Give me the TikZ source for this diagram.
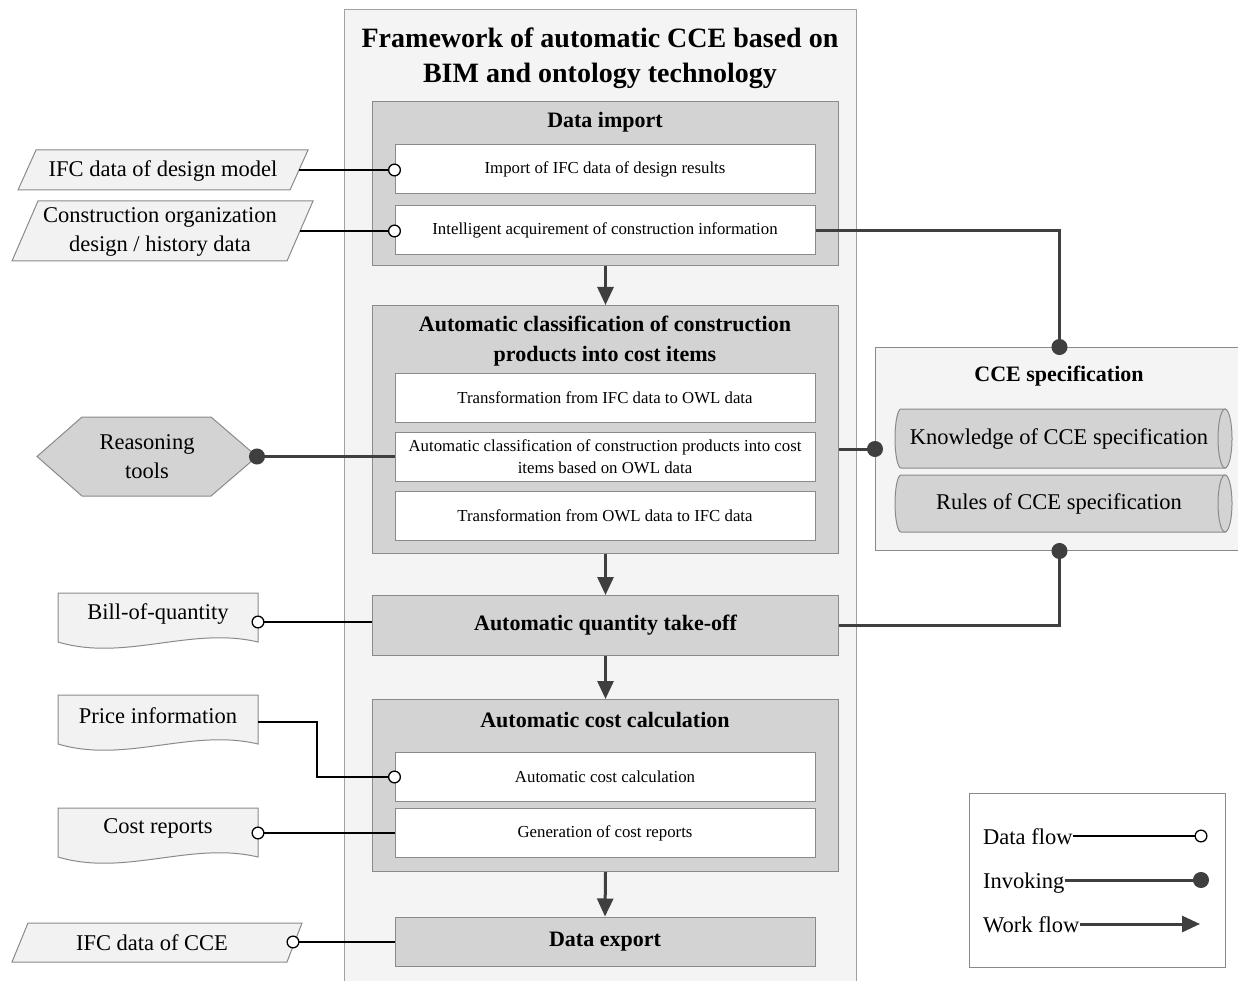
\documentclass[tikz,border=0pt]{standalone}
\usepackage{fontspec}
\setmainfont{Liberation Serif}
\usetikzlibrary{arrows.meta,calc}
\definecolor{framefill}{HTML}{F4F4F4}
\definecolor{secfill}{HTML}{D3D3D3}
\definecolor{ink}{HTML}{3F3F3F}
\definecolor{edgegray}{HTML}{8A8A8A}
\definecolor{docfill}{HTML}{F2F2F2}
\begin{document}
\begin{tikzpicture}[x=1pt,y=-1pt,
  frame/.style={draw=edgegray!80, fill=framefill, line width=1, inner sep=0},
  secbox/.style={draw=edgegray, fill=secfill, line width=1, inner sep=0},
  inbox/.style={draw=edgegray, fill=white, line width=1, minimum width=420, minimum height=49, inner sep=0, align=center, font=\fontsize{16.8}{22}\selectfont},
  sectitle/.style={font=\fontsize{22}{30}\selectfont\bfseries, align=center, inner sep=0},
  lbl/.style={font=\fontsize{22.5}{29}\selectfont, align=center, inner sep=0},
  shapeline/.style={draw=edgegray, line width=1},
  dataflow/.style={line width=1.5, black, shorten >=-6.5, -{Circle[open, length=13, width=13, fill=white, line width=1.3]}},
  invoking/.style={line width=3, ink, shorten >=-8, -{Circle[length=16, width=16]}},
  workflow/.style={line width=3, ink, -{Triangle[length=18, width=16]}}
]
\useasboundingbox (0,0) rectangle (1238,981);
\clip (0,0) rectangle (1238,981);

% main frame
\node[frame, anchor=north west, minimum width=512, minimum height=990] (frame) at (344,9) {};
\node[font=\fontsize{28}{35}\selectfont\bfseries, align=center, inner sep=0] (title) at (600,58) {Framework of automatic CCE based on\\BIM and ontology technology};

% data import
\node[secbox, anchor=north west, minimum width=466, minimum height=164] (dimp) at (372,101) {};
\node[sectitle] (dimpT) at (605,122) {Data import};
\node[inbox] (ifcimp) at (605,169.5) {Import of IFC data of design results};
\node[inbox] (intel) at (605,230.5) {Intelligent acquirement of construction information};

% classification
\node[secbox, anchor=north west, minimum width=466, minimum height=248] (cls) at (372,305) {};
\node[sectitle] (clsT) at (605,341) {Automatic classification of construction\\products into cost items};
\node[inbox] (i2o) at (605,397.5) {Transformation from IFC data to OWL data};
\node[inbox] (aco) at (605,456.5) {Automatic classification of construction products into cost\\items based on OWL data};
\node[inbox] (o2i) at (605,515.5) {Transformation from OWL data to IFC data};

% quantity take-off
\node[secbox, anchor=north west, minimum width=466, minimum height=60, font=\fontsize{22}{30}\selectfont\bfseries] (qto) at (372,595) {Automatic quantity take-off};

% cost calculation
\node[secbox, anchor=north west, minimum width=466, minimum height=172] (ccal) at (372,699) {};
\node[sectitle] (ccalT) at (605,720) {Automatic cost calculation};
\node[inbox] (acc) at (605,777) {Automatic cost calculation};
\node[inbox] (gcr) at (605,833) {Generation of cost reports};

% data export
\node[secbox, minimum width=420, minimum height=49, font=\fontsize{22}{30}\selectfont\bfseries] (exp) at (605,941.5) {Data export};

% work flow arrows
\draw[workflow] (dimp.south) -- (cls.north);
\draw[workflow] (cls.south) -- (qto.north);
\draw[workflow] (qto.south) -- (ccal.north);
\draw[workflow] (ccal.south) -- (exp.north);

% left inputs / outputs
\draw[shapeline, fill=docfill] (36,150) -- (308,150) -- (290,190) -- (18,190) -- cycle;
\node[lbl] (ifcdm) at (163,171) {IFC data of design model};
\coordinate (ifcdm-r) at (299,170);

\draw[shapeline, fill=docfill] (38,201) -- (313,201) -- (287,261) -- (12,261) -- cycle;
\node[lbl] (cod) at (160,232) {Construction organization\\design / history data};
\coordinate (cod-r) at (300,231);

\draw[shapeline, fill=secfill] (37,456.5) -- (82,417) -- (211,417) -- (257,456.5) -- (211,496) -- (82,496) -- cycle;
\node[lbl] (rt) at (147,457) {Reasoning\\tools};
\coordinate (rt-r) at (257,456.5);

\draw[shapeline, fill=docfill] (58,593) -- (258,593) -- (258,642) .. controls (191,626) and (125,662) .. (58,642) -- cycle;
\node[lbl] (boq) at (158,614) {Bill-of-quantity};
\coordinate (boq-r) at (258,622);

\draw[shapeline, fill=docfill] (58,695) -- (258,695) -- (258,744) .. controls (191,728) and (125,764) .. (58,744) -- cycle;
\node[lbl] (pi) at (158,716) {Price information};
\coordinate (pi-r) at (258,722);

\draw[shapeline, fill=docfill] (58,808) -- (258,808) -- (258,857) .. controls (191,841) and (125,877) .. (58,857) -- cycle;
\node[lbl] (cr) at (158,828) {Cost reports};
\coordinate (cr-r) at (258,833);

\draw[shapeline, fill=docfill] (28,923) -- (302,923) -- (287,962) -- (12,962) -- cycle;
\node[lbl] (ifccce) at (152,943) {IFC data of CCE};
\coordinate (ifccce-r) at (293,942);

% CCE specification
\node[frame, draw=edgegray, anchor=north west, minimum width=368, minimum height=203] (cce) at (875,347) {};
\node[sectitle] (cceT) at (1059,376) {CCE specification};
\draw[shapeline, fill=secfill] (901,409) -- (1225,409) -- (1225,468) -- (901,468) arc[start angle=90, end angle=270, x radius=6, y radius=29.5] -- cycle;
\draw[shapeline, fill=secfill] (1225,438.5) ellipse [x radius=7, y radius=29.5];
\node[lbl] (know) at (1059,439) {Knowledge of CCE specification};
\draw[shapeline, fill=secfill] (901,475) -- (1225,475) -- (1225,532) -- (901,532) arc[start angle=90, end angle=270, x radius=6, y radius=28.5] -- cycle;
\draw[shapeline, fill=secfill] (1225,503.5) ellipse [x radius=7, y radius=28.5];
\node[lbl] (rules) at (1059,504) {Rules of CCE specification};

% data flows
\draw[dataflow] (ifcdm-r) -- (ifcdm-r -| ifcimp.west);
\draw[dataflow] (cod-r) -- (cod-r -| intel.west);
\draw[dataflow] (pi-r) -- ++(59,0) |- (acc.west);
\draw[dataflow] (qto.west |- boq-r) -- (boq-r);
\draw[dataflow] (gcr.west |- cr-r) -- (cr-r);
\draw[dataflow] (exp.west |- ifccce-r) -- (ifccce-r);

% invoking
\draw[invoking] (aco.west) -- (rt-r);
\draw[invoking] (intel.east) -| (cce.north);
\draw[invoking] (cls.east |- cce.west) -- (cce.west);
\draw[invoking] (qto.east) -| (cce.south);

% legend
\node[draw=edgegray, line width=1, fill=white, anchor=north west, minimum width=256, minimum height=174, inner sep=0] (legend) at (969,793) {};
\node[lbl, anchor=base west] (lg1) at (983,844) {Data flow};
\node[lbl, anchor=base west] (lg2) at (983,888) {Invoking};
\node[lbl, anchor=base west] (lg3) at (983,932) {Work flow};
\coordinate (lg1e) at (1201,836);
\coordinate (lg2e) at (1201,880);
\coordinate (lg3e) at (1200,924);
\draw[dataflow] ($(lg1.base east)+(0,-8)$) -- (lg1e);
\draw[invoking] ($(lg2.base east)+(0,-8)$) -- (lg2e);
\draw[workflow] ($(lg3.base east)+(0,-8)$) -- (lg3e);
\end{tikzpicture}
\end{document}
